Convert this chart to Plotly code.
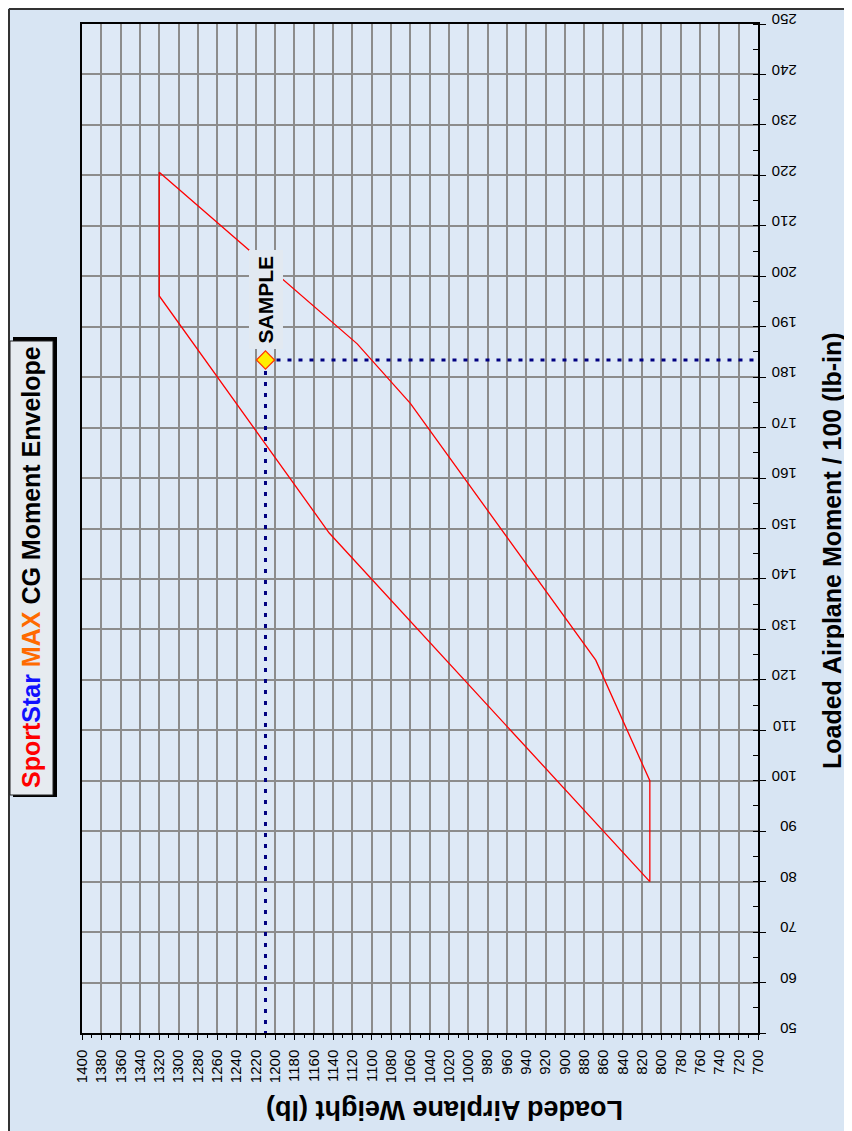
import plotly.graph_objects as go

# ---- data ----
env_weight = [812, 812, 868, 1060, 1115, 1320, 1320, 1144, 812]
env_moment = [80, 100, 123.9, 174.8, 186.6, 220.6, 196.1, 149.1, 80]
sample_weight = [1210]
sample_moment = [183.4]
weight_range = [1400, 700]
moment_range = [50, 250]

# ---- layout helpers (page pixels -> paper); page body has an 8px margin ----
OFF = 8
W, H = 852 - OFF, 1131 - OFF
L, R, T, B = 82 - OFF, 758 - OFF, 24 - OFF, 1033 - OFF
def px(x):
    return (x - OFF - L) / (R - L)
def py(y):
    return (B - (y - OFF)) / (B - T)

FONT = "Arial, Liberation Sans, sans-serif"
fig = go.Figure()

fig.add_trace(go.Scatter(x=env_weight, y=env_moment, mode="lines",
                         line=dict(color="#ff0000", width=1.3),
                         hoverinfo="skip", showlegend=False))
# sample guide lines
fig.add_trace(go.Scatter(x=[sample_weight[0], weight_range[1]], y=[sample_moment[0]] * 2,
                         mode="lines", line=dict(color="#000080", width=3, dash="4px,7px"),
                         showlegend=False, cliponaxis=False))
fig.add_trace(go.Scatter(x=[sample_weight[0]] * 2, y=[sample_moment[0], moment_range[0]],
                         mode="lines", line=dict(color="#000080", width=3, dash="4px,7px"),
                         showlegend=False, cliponaxis=False))
fig.add_trace(go.Scatter(x=sample_weight, y=sample_moment, mode="markers",
                         marker=dict(symbol="diamond", size=14, color="#ffee00",
                                     line=dict(color="#ff3300", width=1.2)),
                         showlegend=False))

fig.update_layout(
    width=W, height=H, template="none",
    margin=dict(l=L, r=W - R, t=T, b=H - B, pad=0),
    paper_bgcolor="#d8e5f3", plot_bgcolor="#dee9f6",
    font=dict(family=FONT, color="black"),
    xaxis=dict(range=weight_range, dtick=20, tick0=700, tickangle=-90,
               showgrid=True, gridcolor="#8c8c8c", gridwidth=1.5,
               showline=True, linecolor="black", linewidth=1.5, mirror=True,
               ticks="outside", ticklen=5, tickcolor="black",
               minor=dict(dtick=10, ticks="outside", ticklen=3, tickcolor="black", showgrid=False),
               tickfont=dict(size=15), zeroline=False, automargin=False,
               ticklabelstandoff=4),
    yaxis=dict(range=moment_range, dtick=10, tick0=50, side="right", tickangle=180,
               showgrid=True, gridcolor="#8c8c8c", gridwidth=1.5,
               showline=True, linecolor="black", linewidth=1.5, mirror=True,
               ticks="outside", ticklen=6, tickcolor="black",
               minor=dict(dtick=5, ticks="inside", ticklen=5, tickcolor="black", showgrid=False),
               tickfont=dict(size=15), zeroline=False, automargin=False,
               ticklabelstandoff=28),
)

shapes = [
    # outer frame (top / left)
    dict(type="line", xref="paper", yref="paper", x0=px(9), x1=px(900), y0=py(9), y1=py(9),
         line=dict(color="#333333", width=2)),
    dict(type="line", xref="paper", yref="paper", x0=px(9), x1=px(9), y0=py(9), y1=py(1200),
         line=dict(color="#333333", width=2)),
    # title box shadow + box
    dict(type="rect", xref="paper", yref="paper", x0=px(13), x1=px(57), y0=py(797), y1=py(337),
         fillcolor="black", line=dict(width=0)),
    dict(type="rect", xref="paper", yref="paper", x0=px(10), x1=px(53), y0=py(795), y1=py(341),
         fillcolor="#e6ebf0", line=dict(color="#222222", width=1)),
]
fig.update_layout(shapes=shapes)

annotations = [
    dict(xref="paper", yref="paper", x=px(31), y=py(567), showarrow=False, textangle=-90,
         xanchor="center", yanchor="middle",
         text="<b><span style='color:#ff0000'>Sport</span><span style='color:#1010ff'>Star</span> "
              "<span style='color:#ff6a00'>MAX</span> CG Moment Envelope</b>",
         font=dict(size=25, family=FONT, color="black")),
    dict(xref="paper", yref="paper", x=px(832), y=py(551), showarrow=False, textangle=-90,
         xanchor="center", yanchor="middle",
         text="<b>Loaded Airplane Moment / 100 (lb-in)</b>",
         font=dict(size=25, family=FONT, color="black")),
    dict(xref="paper", yref="paper", x=px(445), y=py(1110), showarrow=False, textangle=180,
         xanchor="center", yanchor="middle",
         text="<b>Loaded Airplane Weight (lb)</b>",
         font=dict(size=27, family=FONT, color="black")),
    dict(x=sample_weight[0], y=sample_moment[0], xref="x", yref="y", showarrow=False,
         textangle=-90, xanchor="center", yanchor="bottom", yshift=11, text="<b>SAMPLE</b>",
         font=dict(size=21, family=FONT, color="black"), bgcolor="#e2e9f1", borderpad=5),
]
fig.update_layout(annotations=annotations)

fig.write_html("out.html")
